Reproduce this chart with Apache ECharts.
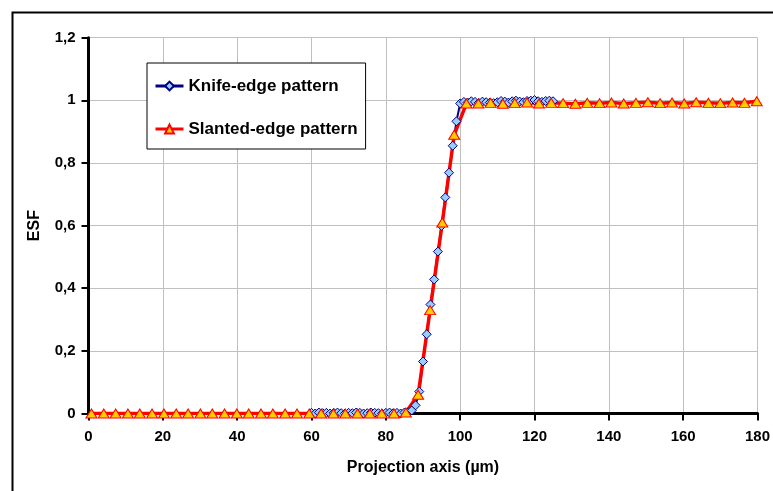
<!DOCTYPE html>
<html>
<head>
<meta charset="utf-8">
<script src="https://cdn.jsdelivr.net/npm/echarts@6/dist/echarts.min.js"></script>
<style>
html,body{margin:0;padding:0;background:#fff;}
#chart{width:773px;height:491px;}
</style>
</head>
<body>
<div id="chart"></div>
<script>
var knifeX = [60,61,62,63,64,65,66,67,68,69,70,71,72,73,74,75,76,77,78,79,80,81,82,83,84,85,86,
  87,88,89,90,91,92,93,94,95,96,97,98,99,100,
  101,102,103,104,105,106,107,108,109,110,111,112,113,114,115,116,117,118,119,120,121,122,123,124,125];
var knifeY = [0.002,0.000,0.003,0.001,0.002,0.000,0.002,0.003,0.001,0.000,0.002,0.001,0.003,0.002,0.000,0.001,0.003,0.002,0.001,0.000,0.002,0.003,0.001,0.002,0.000,0.003,0.004,
  0.010,0.026,0.070,0.166,0.253,0.348,0.428,0.517,0.599,0.690,0.769,0.855,0.933,0.990,
  0.995,0.993,0.997,0.995,0.992,0.996,0.994,0.993,0.991,0.994,0.998,0.996,0.993,0.997,0.999,0.996,0.994,0.998,0.999,1.001,0.997,0.995,0.998,0.999,0.997];
var slantX = [0.8,4.1,7.3,10.6,13.8,17.1,20.3,23.6,26.8,30.1,33.3,36.6,39.9,43.1,46.4,49.6,52.9,56.1,59.4,62.6,65.9,69.1,72.4,75.7,78.9,82.2,85.4,
  88.7,91.9,95.2,98.4,101.7,
  104.9,108.2,111.5,114.7,118.0,121.2,124.5,127.7,131.0,134.2,137.5,140.7,144.0,147.3,150.5,153.8,157.0,160.3,163.5,166.8,170.0,173.3,176.5,179.8];
var slantY = [0,0,0,0,0,0,0,0,0,0,0,0,0,0,0,0,0,0,0,0,0,0,0,0,0,0,0.003,
  0.06,0.33,0.61,0.89,0.99,
  0.990,0.992,0.989,0.991,0.993,0.990,0.992,0.991,0.989,0.992,0.991,0.993,0.990,0.992,0.994,0.991,0.993,0.990,0.994,0.992,0.991,0.993,0.992,0.997];
var seriesNames = ['Knife-edge pattern', 'Slanted-edge pattern'];
var xTitle = 'Projection axis (µm)';
var yTitle = 'ESF';

function pairs(xs, ys) { return xs.map(function (x, i) { return [x, ys[i]]; }); }
var knifeData = pairs(knifeX, knifeY);
var slantData = pairs(slantX, slantY);

var FONT = "'Liberation Sans', Arial, sans-serif";
var chart = echarts.init(document.getElementById('chart'), null, {renderer: 'canvas'});
chart.setOption({
  animation: false,
  backgroundColor: '#ffffff',
  graphic: [{
    type: 'rect', left: 10, top: 10, z: 100, silent: true,
    shape: {x: 0, y: 0, width: 800, height: 520},
    style: {fill: 'none', stroke: '#000', lineWidth: 2}
  }],
  grid: {left: 88.5, right: 15.3, top: 37.7, bottom: 77.5, containLabel: false},
  legend: {
    orient: 'vertical', left: 147, top: 63,
    backgroundColor: '#fff', borderColor: '#000', borderWidth: 1,
    padding: [13, 8, 10, 7], itemGap: 23, itemWidth: 28, itemHeight: 11,
    textStyle: {fontFamily: FONT, fontWeight: 'bold', fontSize: 17, color: '#000', lineHeight: 20},
    data: [
      {name: seriesNames[0], lineStyle: {color: '#000080', width: 3, opacity: 1}},
      {name: seriesNames[1], lineStyle: {color: '#ff0000', width: 3, opacity: 1}}
    ]
  },
  xAxis: {
    type: 'value', min: 0, max: 180, interval: 20,
    name: xTitle, nameLocation: 'middle', nameGap: 46,
    nameTextStyle: {fontFamily: FONT, fontWeight: 'bold', fontSize: 16, color: '#000'},
    axisLine: {lineStyle: {color: '#000', width: 3}},
    axisTick: {length: 7, lineStyle: {color: '#000', width: 2}},
    axisLabel: {margin: 16, fontFamily: FONT, fontWeight: 'bold', fontSize: 15, color: '#000'},
    splitLine: {show: true, lineStyle: {color: '#c0c0c0', width: 1}}
  },
  yAxis: {
    type: 'value', min: 0, max: 1.2, interval: 0.2,
    name: yTitle, nameLocation: 'middle', nameGap: 46,
    nameTextStyle: {fontFamily: FONT, fontWeight: 'bold', fontSize: 16, color: '#000'},
    axisLine: {show: true, lineStyle: {color: '#000', width: 3}},
    axisTick: {show: true, length: 7, lineStyle: {color: '#000', width: 2}},
    axisLabel: {margin: 13, fontFamily: FONT, fontWeight: 'bold', fontSize: 15, color: '#000',
      formatter: function (v) { return String(Math.round(v * 10) / 10).replace('.', ','); }},
    splitLine: {show: true, lineStyle: {color: '#c0c0c0', width: 1}}
  },
  series: [
    {name: 'knifeLine', type: 'line', data: knifeData, showSymbol: false, silent: true, z: 1,
      lineStyle: {color: '#000080', width: 2}},
    {name: 'slantLine', type: 'line', data: slantData, showSymbol: false, silent: true, z: 2,
      lineStyle: {color: '#ff0000', width: 3.5}},
    {name: seriesNames[0], type: 'line', data: knifeData, z: 3,
      symbol: 'diamond', symbolSize: 9, showSymbol: true,
      itemStyle: {color: '#99ccff', borderColor: '#000080', borderWidth: 1},
      lineStyle: {width: 0, opacity: 0}},
    {name: seriesNames[1], type: 'line', data: slantData, z: 4,
      symbol: 'triangle', symbolSize: [11, 9], showSymbol: true,
      itemStyle: {color: '#ffcc00', borderColor: '#ff0000', borderWidth: 1},
      lineStyle: {width: 0, opacity: 0}}
  ]
});
</script>
</body>
</html>
